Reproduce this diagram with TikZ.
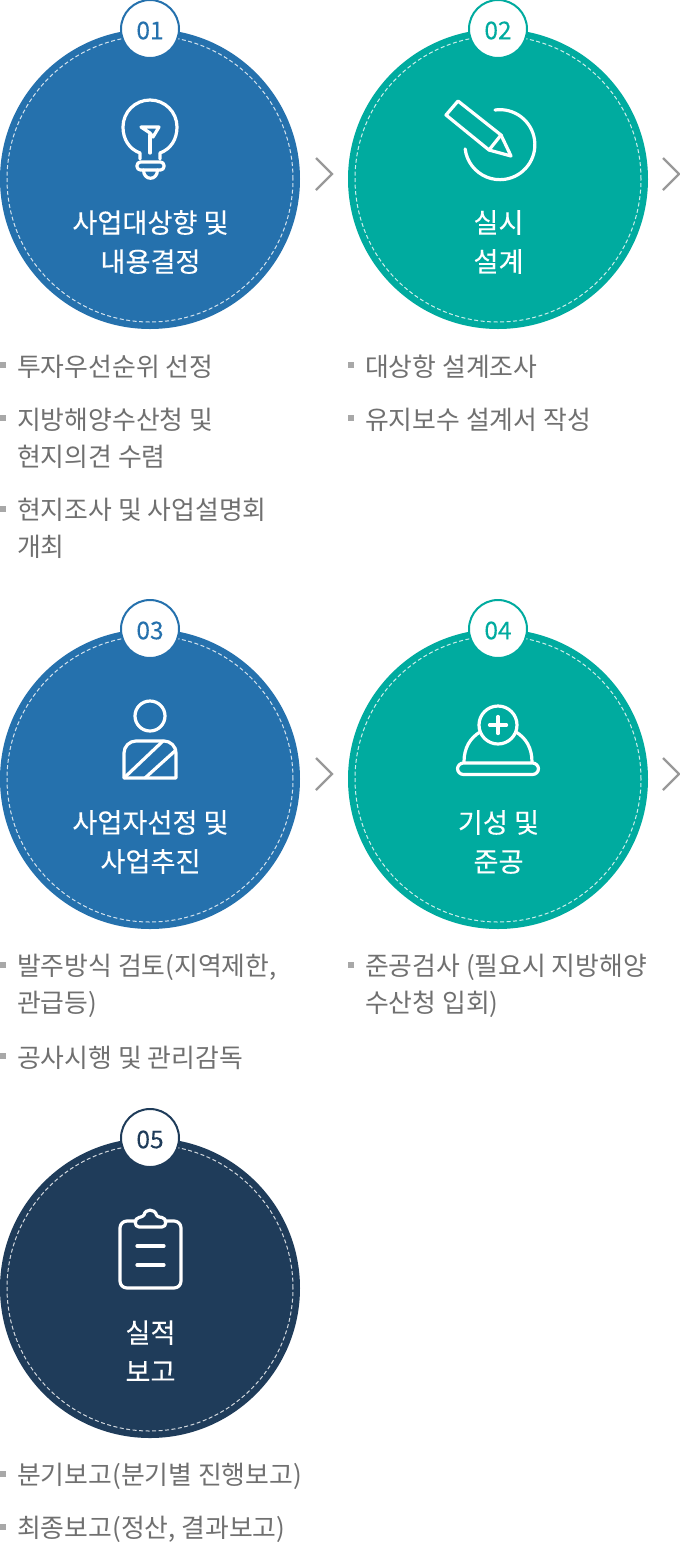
\documentclass[tikz,border=0pt]{standalone}
\usepackage{fontspec}
\setmainfont{Noto Sans CJK KR}
\newfontfamily\headfont[FakeBold=0.12]{Noto Sans CJK KR}
\definecolor{cblue}{HTML}{2571AD}
\definecolor{cteal}{HTML}{00AB9F}
\definecolor{cnavy}{HTML}{1F3C5A}
\definecolor{cbody}{HTML}{707070}
\definecolor{cbullet}{HTML}{A8A8A8}
\definecolor{cchev}{HTML}{999999}
\tikzset{
  disc/.style={circle,fill=#1,draw=none,minimum size=300pt,inner sep=0pt},
  dashring/.style={draw=white,draw opacity=.8,line width=1pt,dash pattern=on 4pt off 2.5pt},
  badge/.style={circle,fill=white,draw=#1,line width=2pt,minimum size=58pt,inner sep=0pt,text=#1,font=\headfont\fontsize{24.5}{26}\selectfont},
  titletext/.style={text=white,align=center,inner sep=0pt,font=\headfont\fontsize{27.2}{39}\selectfont},
  bodytext/.style={text=cbody,align=left,anchor=west,inner sep=0pt,font=\fontsize{25.85}{37.3}\selectfont},
  bulletmark/.style={fill=cbullet,draw=none,minimum size=6pt,inner sep=0pt,anchor=west},
  chevron/.style={draw=cchev,line width=2.2pt,line join=miter},
  iconline/.style={draw=white,line width=3.2pt,line cap=round,line join=round},
}
\newcommand{\stepdisc}[6]{% name, x, y, colour, number, title
  \node[disc=#4] (#1) at (#2,#3) {};
  \draw[dashring] (#1.center) circle (143pt);
  \node[badge=#4] (#1b) at (#2,#3-150) {\raisebox{-1.5pt}[\height][\depth]{#5}};
  \node[titletext] (#1t) at (#2+0.5,#3+63) {#6};
}
\begin{document}
\begin{tikzpicture}[x=1pt,y=-1pt]
\useasboundingbox[fill=white] (0,0) rectangle (680,1543);

\stepdisc{a}{150}{179}{cblue}{01}{사업대상향 및\\내용결정}
\stepdisc{b}{498}{179}{cteal}{02}{실시\\설계}
\stepdisc{c}{150}{779}{cblue}{03}{사업자선정 및\\사업추진}
\stepdisc{d}{498}{779}{cteal}{04}{기성 및\\준공}
\stepdisc{e}{150}{1288}{cnavy}{05}{실적\\보고}

% chevrons
\draw[chevron] (316,158) -- (332,174) -- (316,190);
\draw[chevron] (663,158) -- (679,174) -- (663,190);
\draw[chevron] (316,758) -- (332,774) -- (316,790);
\draw[chevron] (663,758) -- (679,774) -- (663,790);

% bulb
\draw[iconline] (140,159) -- (140,153) .. controls (129,149) and (123,139) .. (123,127)
  arc[start angle=180,end angle=0,radius=27pt]
  .. controls (177,139) and (171,149) .. (160,153) -- (160,159);
\draw[iconline,rounded corners=3.5pt] (137,162) rectangle (164,170);
\draw[iconline] (143.5,170) .. controls (143.5,181) and (157.5,181) .. (157.5,170);
\draw[iconline] (141,127) -- (159,127) -- (153,137) -- (150,133) -- cycle;
\draw[iconline] (150,135) -- (150,153);

% pencil
\draw[iconline] (458,101) -- (446,115) -- (489,150) -- (501,135) -- cycle;
\draw[iconline] (501,135) -- (511,156) -- (489,150);
\draw[iconline] (495,110) arc[start angle=98,end angle=-173,radius=35pt];

% person
\draw[iconline] (150,716) circle (15pt);
\draw[iconline] (124,778) -- (124,753) arc[start angle=180,end angle=90,radius=12pt] -- (164,741) arc[start angle=90,end angle=0,radius=12pt] -- (176,778) -- cycle;
\draw[iconline] (124,778) -- (163,741);
\draw[iconline] (145,778) -- (176,750);

% helmet
\draw[iconline] (498,725) circle (19pt);
\draw[iconline] (489.5,725) -- (506.5,725);
\draw[iconline] (498,716.5) -- (498,733.5);
\draw[iconline,rounded corners=6pt] (457.5,763) rectangle (538.5,774.5);
\draw[iconline] (464,762) .. controls (464,748) and (470,738) .. (480,732);
\draw[iconline] (532,762) .. controls (532,748) and (526,738) .. (516,732);

% clipboard
\draw[iconline,rounded corners=7pt] (136,1221) -- (120,1221) -- (120,1288) -- (181,1288) -- (181,1221) -- (165,1221);
\draw[iconline] (139,1227) -- (162,1227) .. controls (167,1227) and (167,1218) .. (162,1217.5)
  .. controls (158,1217) and (157,1216) .. (156.5,1215)
  .. controls (155,1208.5) and (145,1208.5) .. (144,1215)
  .. controls (143,1216) and (142,1217) .. (139,1217.5)
  .. controls (134,1218) and (134,1227) .. (139,1227) -- cycle;
\draw[iconline] (137,1246) -- (164,1246);
\draw[iconline] (137,1265) -- (164,1265);

% lists
\node[bulletmark] (a1m) at (0,365) {};
\node[bodytext] (a1) at (17,367) {투자우선순위 선정};
\node[bulletmark] (a2m) at (0,418) {};
\node[bodytext] (a2) at (17,438.5) {지방해양수산청 및\\현지의견 수렴};
\node[bulletmark] (a3m) at (0,509) {};
\node[bodytext] (a3) at (17,528.5) {현지조사 및 사업설명회\\개최};
\node[bulletmark] (b1m) at (348,365) {};
\node[bodytext] (b1) at (365,367) {대상항 설계조사};
\node[bulletmark] (b2m) at (348,418) {};
\node[bodytext] (b2) at (365,420) {유지보수 설계서 작성};
\node[bulletmark] (c1m) at (0,965) {};
\node[bodytext] (c1) at (17,985.5) {발주방식 검토(지역제한,\\관급등)};
\node[bulletmark] (c2m) at (0,1056) {};
\node[bodytext] (c2) at (17,1058) {공사시행 및 관리감독};
\node[bulletmark] (d1m) at (348,965) {};
\node[bodytext] (d1) at (365,985.5) {준공검사 (필요시 지방해양\\수산청 입회)};
\node[bulletmark] (e1m) at (0,1474) {};
\node[bodytext] (e1) at (17,1476) {분기보고(분기별 진행보고)};
\node[bulletmark] (e2m) at (0,1527) {};
\node[bodytext] (e2) at (17,1529) {최종보고(정산, 결과보고)};
\end{tikzpicture}
\end{document}
